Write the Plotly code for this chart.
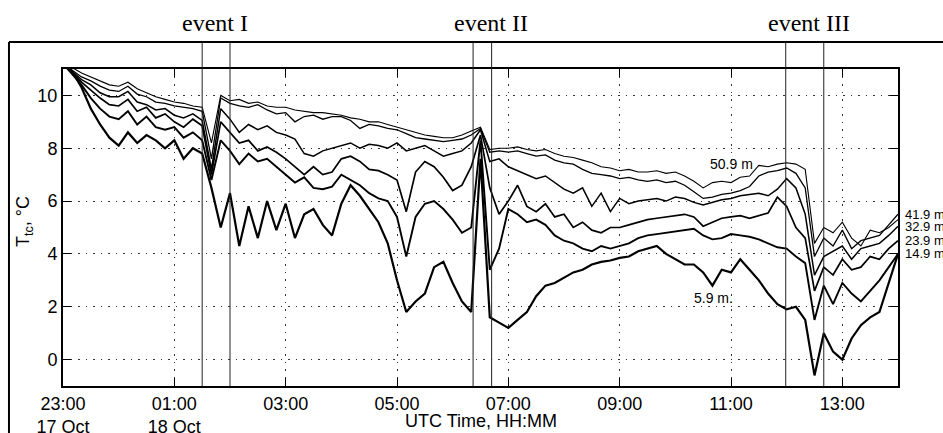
import pandas as pd
import plotly.graph_objects as go

# 10-minute samples, 23:00 17 Oct -> 14:00 18 Oct
times = pd.date_range("2000-10-18 23:00", periods=91, freq="10min") - pd.Timedelta(days=1)

t_50_9 = [11.4, 11.05, 10.85, 10.7, 10.55, 10.4,
          10.35, 10.5, 10.25, 10.1, 9.95, 9.85,
          9.75, 9.7, 9.6, 9.55, 8.2, 10.0,
          9.8, 9.85, 9.7, 9.75, 9.6, 9.55,
          9.55, 9.45, 9.4, 9.35, 9.35, 9.3,
          9.25, 9.15, 9.1, 9.0, 9.0, 8.9,
          8.8, 8.7, 8.6, 8.5, 8.45, 8.4,
          8.4, 8.5, 8.65, 8.8, 7.95, 8.0,
          8.0, 8.05, 7.95, 7.9, 7.95, 7.8,
          7.7, 7.65, 7.55, 7.45, 7.3, 7.25,
          7.15, 7.2, 7.1, 7.1, 7.15, 7.05,
          7.1, 6.95, 6.75, 6.5, 6.7, 6.75,
          6.7, 6.9, 6.95, 7.35, 7.3, 7.4,
          7.45, 7.4, 7.2, 4.4, 5.0, 4.8,
          5.2, 4.6, 4.3, 4.9, 4.8, 5.0,
          5.3]

t_41_9 = [11.3, 10.95, 10.7, 10.55, 10.35, 10.2,
          10.15, 10.35, 10.05, 9.95, 9.75, 9.7,
          9.6, 9.55, 9.5, 9.4, 7.6, 9.9,
          9.7, 9.6, 9.55, 9.65, 9.45, 9.3,
          9.35, 9.0, 9.2, 9.25, 9.1, 9.2,
          9.2, 9.05, 8.75, 8.9, 8.85, 8.75,
          8.7, 8.55, 8.4, 8.35, 8.3, 8.25,
          8.3, 8.35, 8.5, 8.75, 7.85, 7.9,
          7.85, 7.9, 7.8, 7.7, 7.75, 7.55,
          7.45, 7.4, 7.2, 7.05, 7.0, 6.95,
          6.85, 6.9, 6.8, 6.75, 6.8, 6.7,
          6.75, 6.6, 6.35, 6.1, 6.15, 6.25,
          6.3, 6.4, 6.55, 6.95, 7.1, 7.15,
          7.25, 7.05, 6.5, 3.9, 4.6, 4.3,
          4.9, 4.2, 4.5, 4.6, 4.7, 5.1,
          5.5]

t_32_9 = [11.3, 10.9, 10.6, 10.4, 10.1, 9.95,
          9.95, 10.15, 9.75, 9.65, 9.45, 9.5,
          9.25, 9.15, 9.3, 9.05, 7.2, 9.5,
          9.1, 8.6, 8.9, 8.7, 8.85, 8.6,
          8.5, 8.35, 7.8, 7.7, 7.9, 8.0,
          8.1, 8.2, 8.0, 8.15, 8.1, 8.0,
          8.2, 7.9, 8.0, 8.1, 7.9, 7.7,
          7.8, 7.9, 8.2, 8.7, 7.5, 7.6,
          7.3, 7.15, 7.0, 6.85, 6.95, 6.7,
          6.45, 6.3, 6.5, 5.8, 6.3, 5.6,
          6.1, 5.9, 6.0, 6.05, 6.1, 6.0,
          6.15, 6.1, 5.95, 5.85, 5.95, 6.05,
          6.1, 6.2, 6.25, 6.3, 6.2, 6.45,
          6.85, 6.5, 5.5, 3.2, 3.9, 4.1,
          4.3, 3.8, 4.2, 4.3, 4.4, 4.7,
          5.05]

t_23_9 = [11.2, 10.85, 10.5, 10.2, 9.9, 9.65,
          9.6, 9.85, 9.4, 9.55, 9.15, 9.3,
          9.0, 8.8, 9.1, 8.85, 7.0, 9.0,
          8.6, 8.2, 8.3, 7.9, 8.05, 7.85,
          7.6, 7.3, 7.0, 7.3, 7.0, 7.1,
          7.6, 7.7, 7.5, 7.2, 7.15, 7.0,
          6.8, 5.6, 7.1, 7.5, 7.3, 6.9,
          6.4, 6.6, 7.3, 8.5, 6.5, 5.5,
          6.0, 6.6, 5.8, 5.6, 5.9, 5.4,
          5.5, 5.0, 5.2, 4.9, 4.8, 5.0,
          5.0, 5.1, 5.2, 5.3, 5.35, 5.4,
          5.45, 5.5, 5.4, 5.05, 5.2, 5.35,
          5.4, 5.45, 5.35, 5.45, 5.55, 6.15,
          5.8, 5.0, 4.6, 2.6, 3.5, 3.2,
          3.8, 3.4, 3.5, 3.9, 3.8, 4.2,
          4.5]

t_14_9 = [11.2, 10.8, 10.4, 9.9, 9.5, 9.2,
          9.1, 9.4, 8.9, 9.2, 8.8, 8.7,
          8.8, 8.4, 8.6, 8.3, 6.8, 8.3,
          7.9, 7.4, 7.8, 7.5, 7.6, 7.3,
          7.0, 6.7, 6.9, 6.5, 6.45, 6.55,
          7.0, 6.8, 6.6, 6.3, 6.1, 6.0,
          5.4, 3.9, 5.4, 5.9, 6.0, 5.7,
          5.3, 4.8, 5.0, 8.3, 3.4, 4.2,
          5.7, 5.5, 5.2, 5.3, 5.1, 4.7,
          4.5, 4.4, 4.2, 4.1, 4.3, 4.2,
          4.3, 4.4, 4.6, 4.7, 4.75, 4.8,
          4.85, 4.9, 4.95, 4.7, 4.55, 4.6,
          4.75, 4.7, 4.65, 4.55, 4.4, 4.25,
          4.2, 3.9, 3.65, 1.5, 2.8, 2.1,
          2.9, 2.5, 2.2, 2.6, 3.0, 3.5,
          4.0]

t_5_9 = [11.3, 10.9, 10.3, 9.5, 8.9, 8.4,
         8.1, 8.6, 8.2, 8.5, 8.3, 8.0,
         8.3, 7.6, 8.0, 7.8, 6.5, 5.0,
         6.3, 4.3, 5.8, 4.6, 6.0, 4.9,
         5.9, 4.6, 5.5, 5.7, 5.1, 4.7,
         5.9, 6.6, 6.2, 5.7, 5.2, 4.4,
         3.0, 1.8, 2.2, 2.5, 3.5, 3.7,
         2.9, 2.2, 1.8, 7.6, 1.6, 1.4,
         1.2, 1.5, 1.8, 2.4, 2.8, 2.9,
         3.1, 3.3, 3.4, 3.6, 3.7, 3.75,
         3.85, 3.9, 4.1, 4.2, 4.3, 4.0,
         3.8, 3.6, 3.6, 3.3, 2.8, 3.4,
         3.3, 3.8, 3.4, 3.0, 2.5, 2.1,
         1.9, 2.0, 1.5, -0.6, 1.0, 0.3,
         0.0, 0.8, 1.3, 1.6, 1.8, 2.9,
         4.0]

series = {
    "50.9 m": t_50_9,
    "41.9 m": t_41_9,
    "32.9 m": t_32_9,
    "23.9 m": t_23_9,
    "14.9 m": t_14_9,
    "5.9 m": t_5_9,
}
line_widths = {"50.9 m": 1.1, "41.9 m": 1.3, "32.9 m": 1.5,
               "23.9 m": 1.7, "14.9 m": 1.9, "5.9 m": 2.2}

xtick_vals = ["2000-10-17 23:00", "2000-10-18 01:00", "2000-10-18 03:00", "2000-10-18 05:00",
              "2000-10-18 07:00", "2000-10-18 09:00", "2000-10-18 11:00", "2000-10-18 13:00"]
xtick_text = ["23:00<br>17 Oct", "01:00<br>18 Oct", "03:00", "05:00", "07:00", "09:00", "11:00", "13:00"]
ytick_vals = [0, 2, 4, 6, 8, 10]

event_lines = ["2000-10-18 01:30", "2000-10-18 02:00", "2000-10-18 06:22",
               "2000-10-18 06:42", "2000-10-18 11:59", "2000-10-18 12:40"]
event_names = ["event I", "event II", "event III"]
event_label_x = ["2000-10-18 01:44", "2000-10-18 06:41", "2000-10-18 12:24"]

right_labels = ["41.9 m", "32.9 m", "23.9 m", "14.9 m"]

SANS = "Liberation Sans, Arial, Helvetica, sans-serif"
SERIF = "Liberation Serif, Times New Roman, serif"

fig = go.Figure()
for name, vals in series.items():
    fig.add_trace(go.Scatter(x=times, y=vals, mode="lines", name=name,
                             line=dict(color="black", width=line_widths[name]), showlegend=False))

fig.update_layout(
    width=943, height=433,
    margin=dict(l=63, r=45, t=69, b=47),
    paper_bgcolor="white", plot_bgcolor="white",
    font=dict(family=SANS, size=18, color="black"),
    showlegend=False,
)
fig.update_xaxes(
    range=["2000-10-17 23:00", "2000-10-18 14:00"],
    tickvals=xtick_vals, ticktext=xtick_text, automargin=False,
    ticks="inside", ticklen=8, tickcolor="black", tickwidth=1,
    showline=True, linecolor="black", linewidth=2, mirror="ticks",
    showgrid=True, gridcolor="#333", gridwidth=1, griddash="1.5px,6px",
    zeroline=False, tickfont=dict(size=18),
)
fig.update_yaxes(
    range=[-1, 11], tickvals=ytick_vals, automargin=False,
    ticks="inside", ticklen=8, tickcolor="black", tickwidth=1,
    showline=True, linecolor="black", linewidth=2, mirror="ticks",
    showgrid=True, gridcolor="#333", gridwidth=1, griddash="1.5px,6px",
    zeroline=False, tickfont=dict(size=18),
)

shapes = []
for ex in event_lines:
    shapes.append(dict(type="line", xref="x", yref="paper", x0=ex, x1=ex, y0=0, y1=1.0852,
                       line=dict(color="#222", width=1)))
# outer frame (top and left)
shapes.append(dict(type="line", xref="paper", yref="paper", x0=-0.0647, x1=1.07, y0=1.0852, y1=1.0852,
                   line=dict(color="black", width=2)))
shapes.append(dict(type="line", xref="paper", yref="paper", x0=-0.0647, x1=-0.0647, y0=-0.16, y1=1.0852,
                   line=dict(color="black", width=2)))
fig.update_layout(shapes=shapes)

ann = []
for name, ex in zip(event_names, event_label_x):
    ann.append(dict(text=name, x=ex, xref="x", y=1.145, yref="paper", showarrow=False,
                    font=dict(family=SERIF, size=24, color="black"), xanchor="center", yanchor="middle"))
ann.append(dict(text="50.9 m", x="2000-10-18 11:00", y=7.4, xref="x", yref="y", showarrow=False,
                font=dict(size=14), xanchor="center", yanchor="middle"))
ann.append(dict(text="5.9 m.", x="2000-10-18 10:41", y=2.34, xref="x", yref="y", showarrow=False,
                font=dict(size=14), xanchor="center", yanchor="middle"))
for lab in right_labels:
    yv = series[lab][-1]
    ann.append(dict(text=lab, x=1.006, xref="paper", y=yv, yref="y", showarrow=False,
                    font=dict(size=13), xanchor="left", yanchor="middle"))
ann.append(dict(text="UTC Time, HH:MM", x=0.5, xref="paper", y=-0.11, yref="paper", showarrow=False,
                font=dict(size=18), xanchor="center", yanchor="middle"))
ann.append(dict(text="T<sub>tc</sub>, °C", x=-0.0467, xref="paper", y=0.517, yref="paper", showarrow=False,
                textangle=-90, font=dict(size=18), xanchor="center", yanchor="middle"))
fig.update_layout(annotations=ann)

fig.write_html("out.html")
